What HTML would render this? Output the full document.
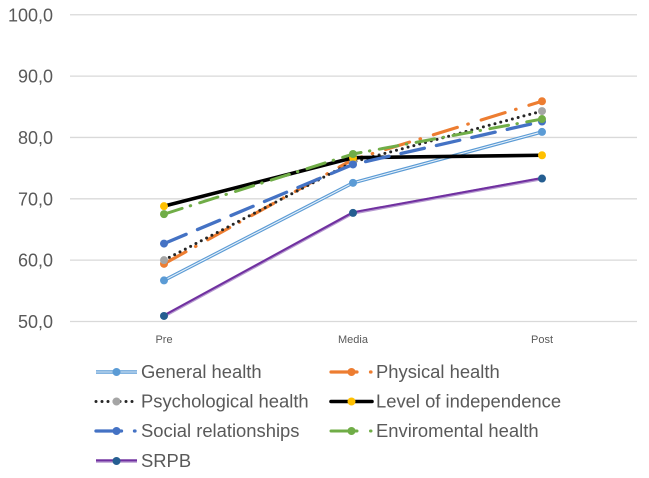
<!DOCTYPE html>
<html lang="en">
<head>
<meta charset="utf-8">
<title>Health domains line chart</title>
<style>
html,body{margin:0;padding:0;background:#fff;}
#chart{display:block;width:649px;height:478px;}
text{font-family:"Liberation Sans",sans-serif;}
</style>
</head>
<body>
<svg id="chart" xmlns="http://www.w3.org/2000/svg" width="649" height="478" viewBox="0 0 649 478">
<rect x="0" y="0" width="649" height="478" fill="#ffffff"/>
<g id="grid"></g>
<g id="yaxis"></g>
<g id="xaxis"></g>
<g id="series"></g>
<g id="legend"></g>
</svg>
<script>
var categories = ['Pre', 'Media', 'Post'];
var yTicks = [50, 60, 70, 80, 90, 100];
var yTickLabels = ['50,0', '60,0', '70,0', '80,0', '90,0', '100,0'];
var seriesNames = ['General health', 'Physical health', 'Psychological health', 'Level of independence', 'Social relationships', 'Enviromental health', 'SRPB'];
var generalHealth = [56.7, 72.6, 80.9];
var physicalHealth = [59.4, 76.4, 85.9];
var psychologicalHealth = [60.0, 76.0, 84.3];
var levelOfIndependence = [68.8, 76.7, 77.1];
var socialRelationships = [62.7, 75.6, 82.6];
var enviromentalHealth = [67.5, 77.3, 83.0];
var srpb = [50.9, 67.7, 73.3];

var seriesValues = [generalHealth, physicalHealth, psychologicalHealth, levelOfIndependence, socialRelationships, enviromentalHealth, srpb];
var seriesStyles = [
  {kind:'double', color:'#5B9BD5', marker:'#5B9BD5'},
  {color:'#ED7D31', marker:'#ED7D31', width:3.2, dash:'25 11 0.5 13.5', keyDash:'26 13.5 0.5 20', cap:'round'},
  {color:'#262626', marker:'#A5A5A5', width:3, dash:'0 6', cap:'round'},
  {color:'#000000', marker:'#FFC000', width:3.6, dash:'', cap:'round'},
  {color:'#4472C4', marker:'#4472C4', width:3.3, dash:'24 12.3', keyDash:'25.5 13 0.5 20', cap:'round'},
  {color:'#70AD47', marker:'#70AD47', width:3, dash:'19 8.5 0.5 9.5', keyDash:'26 13.5 0.5 20', cap:'round'},
  {kind:'compound', color:'#7030A0', marker:'#255E91'}
];

var NS = 'http://www.w3.org/2000/svg';
function xPos(i){ return 164 + i * 189; }
function yPos(v){ return 321.5 - (v - 50) * 6.135; }
function make(tag, attrs, parent){
  var el = document.createElementNS(NS, tag);
  for (var k in attrs) el.setAttribute(k, attrs[k]);
  parent.appendChild(el);
  return el;
}
function drawStroke(points, st, parent, isKey){
  if (st.kind === 'double') {
    make('polyline', {points:points, fill:'none', stroke:st.color, 'stroke-width':3.4, 'stroke-linejoin':'round'}, parent);
    make('polyline', {points:points, fill:'none', stroke:'#E8F1F9', 'stroke-width':1.1, 'stroke-linejoin':'round'}, parent);
  } else if (st.kind === 'compound') {
    make('polyline', {points:points, fill:'none', stroke:'#B79AD0', 'stroke-width':3.4, 'stroke-linejoin':'round'}, parent);
    make('polyline', {points:points, fill:'none', stroke:st.color, 'stroke-width':2, 'stroke-linejoin':'round', transform:'translate(0,-0.6)'}, parent);
  } else {
    var a = {points:points, fill:'none', stroke:st.color, 'stroke-width':st.width, 'stroke-linecap':st.cap, 'stroke-linejoin':'round'};
    var d = isKey && st.keyDash ? st.keyDash : st.dash;
    if (d) a['stroke-dasharray'] = d;
    make('polyline', a, parent);
  }
}

var gridG = document.getElementById('grid');
var yG = document.getElementById('yaxis');
yTicks.forEach(function(t, i){
  var line = make('line', {x1:70, x2:637, y1:yPos(t), y2:yPos(t), stroke:'#D9D9D9', 'stroke-width':1.3}, gridG);
  
  
  var label = make('text', {x:53, y:yPos(t) + 6.5, 'text-anchor':'end', 'font-size':18, fill:'#595959'}, yG);
  label.textContent = yTickLabels[i];
  
  
});

var xG = document.getElementById('xaxis');
categories.forEach(function(c, i){
  var label = make('text', {x:xPos(i), y:343, 'text-anchor':'middle', 'font-size':11, fill:'#595959'}, xG);
  label.textContent = c;
  
  
});

var sG = document.getElementById('series');
seriesValues.forEach(function(vals, s){
  var g = make('g', {}, sG);
  
  
  var pts = vals.map(function(v, i){ return xPos(i) + ',' + yPos(v); }).join(' ');
  drawStroke(pts, seriesStyles[s], g, false);
  vals.forEach(function(v, i){
    var dot = make('circle', {cx:xPos(i), cy:yPos(v), r:4, fill:seriesStyles[s].marker}, g);
    
    
  });
});

var lG = document.getElementById('legend');
var legendRowY = [372, 401.5, 431, 461];
seriesNames.forEach(function(name, s){
  var col = s % 2;
  var row = Math.floor(s / 2);
  var x0 = col === 0 ? 96 : 331;
  var y0 = legendRowY[row];
  var g = make('g', {}, lG);
  
  
  drawStroke(x0 + ',' + y0 + ' ' + (x0 + 41) + ',' + y0, seriesStyles[s], g, true);
  var key = make('circle', {cx:x0 + 20.5, cy:y0, r:4, fill:seriesStyles[s].marker}, g);
  
  
  var label = make('text', {x:x0 + 45, y:y0 + 6, 'font-size':18.4, fill:'#595959'}, g);
  label.textContent = name;
  
  
});
</script>
</body>
</html>
